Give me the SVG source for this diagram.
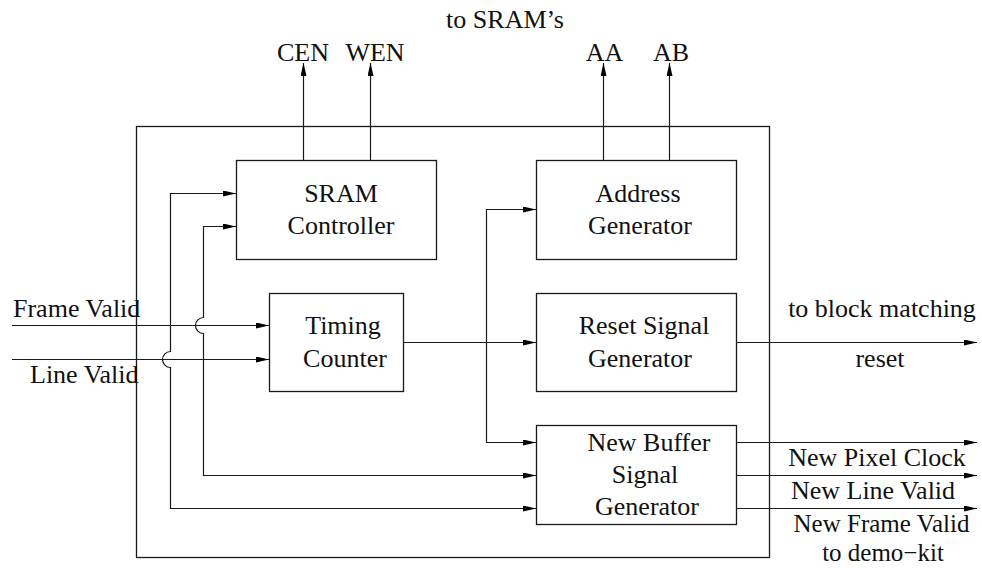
<svg xmlns="http://www.w3.org/2000/svg" width="982" height="568" viewBox="0 0 982 568">
  <style>
    .box { fill: none; stroke: #1a1a1a; stroke-width: 1.3; }
    .wire { fill: none; stroke: #1a1a1a; stroke-width: 1.2; }
    .lbl { font-family: "Liberation Serif", "Times New Roman", serif; font-size: 26px; fill: #111; }
    .sm { font-size: 25px; }
    .c { text-anchor: middle; }
  </style>
  <defs>
    <marker id="arrow" viewBox="0 0 13 6" refX="13" refY="3" markerWidth="13" markerHeight="6" markerUnits="userSpaceOnUse" orient="auto-start-reverse">
      <path d="M0,0 L13,3 L0,6 z" fill="#000"/>
    </marker>
  </defs>
  <rect width="982" height="568" fill="#fff"/>

  <!-- enclosing module boundary -->
  <g id="module">
    <rect class="box" x="136.5" y="126.5" width="633" height="431"/>
  </g>

  <g id="sram-controller">
    <rect class="box" x="236.5" y="160.5" width="200" height="99"/>
    <text class="lbl c" x="341" y="202">SRAM</text>
    <text class="lbl c" x="341" y="234">Controller</text>
  </g>

  <g id="address-generator">
    <rect class="box" x="536.5" y="160.5" width="200" height="99"/>
    <text class="lbl c" x="638" y="202">Address</text>
    <text class="lbl c" x="640" y="234">Generator</text>
  </g>

  <g id="timing-counter">
    <rect class="box" x="269.5" y="293.5" width="134" height="98"/>
    <text class="lbl c" x="343" y="334">Timing</text>
    <text class="lbl c" x="345" y="367">Counter</text>
  </g>

  <g id="reset-signal-generator">
    <rect class="box" x="536.5" y="293.5" width="200" height="98"/>
    <text class="lbl c" x="644" y="334">Reset Signal</text>
    <text class="lbl c" x="640" y="367">Generator</text>
  </g>

  <g id="new-buffer-signal-generator">
    <rect class="box" x="536.5" y="425.5" width="200" height="99"/>
    <text class="lbl c" x="649" y="451">New Buffer</text>
    <text class="lbl c" x="645" y="483">Signal</text>
    <text class="lbl c" x="647" y="515">Generator</text>
  </g>

  <g id="connectors">
    <!-- SRAM strobes and address buses -->
    <path class="wire" d="M303.5,160 V63" marker-end="url(#arrow)"/>
    <path class="wire" d="M370.5,160 V63" marker-end="url(#arrow)"/>
    <path class="wire" d="M603.5,160 V63" marker-end="url(#arrow)"/>
    <path class="wire" d="M669.5,160 V63" marker-end="url(#arrow)"/>

    <!-- camera inputs -->
    <path class="wire" d="M12,325.5 H269" marker-end="url(#arrow)"/>
    <path class="wire" d="M12,359.5 H269" marker-end="url(#arrow)"/>

    <!-- timing counter fan-out lines (with hops over the inputs) -->
    <path class="wire" d="M236,193.5 H170.5 V351.5 A8,8 0 0 0 170.5,367.5 V508.5 H536" marker-start="url(#arrow)" marker-end="url(#arrow)"/>
    <path class="wire" d="M236,226.5 H203.5 V317.5 A8,8 0 0 0 203.5,333.5 V475.5 H536" marker-start="url(#arrow)" marker-end="url(#arrow)"/>
    <path class="wire" d="M536,209.5 H486.5 V442.5 H536" marker-start="url(#arrow)" marker-end="url(#arrow)"/>
    <path class="wire" d="M403,342.5 H536" marker-end="url(#arrow)"/>

    <!-- outputs -->
    <path class="wire" d="M736,342.5 H977" marker-end="url(#arrow)"/>
    <path class="wire" d="M736,442.5 H977" marker-end="url(#arrow)"/>
    <path class="wire" d="M736,475.5 H977" marker-end="url(#arrow)"/>
    <path class="wire" d="M736,508.5 H977" marker-end="url(#arrow)"/>
  </g>

  <g id="signal-labels">
    <text class="lbl c" x="505" y="28">to SRAM’s</text>
    <text class="lbl c" x="303" y="61">CEN</text>
    <text class="lbl c" x="375" y="61">WEN</text>
    <text class="lbl c" x="604.5" y="61">AA</text>
    <text class="lbl c" x="671" y="61">AB</text>
    <text class="lbl" x="13" y="317">Frame Valid</text>
    <text class="lbl" x="30" y="383">Line Valid</text>
    <text class="lbl c" x="882" y="317">to block matching</text>
    <text class="lbl c" x="880" y="367">reset</text>
    <text class="lbl c" x="877" y="466">New Pixel Clock</text>
    <text class="lbl c" x="873" y="499">New Line Valid</text>
    <text class="lbl sm c" x="881.5" y="532">New Frame Valid</text>
    <text class="lbl sm c" x="883" y="561">to demo−kit</text>
  </g>
</svg>
